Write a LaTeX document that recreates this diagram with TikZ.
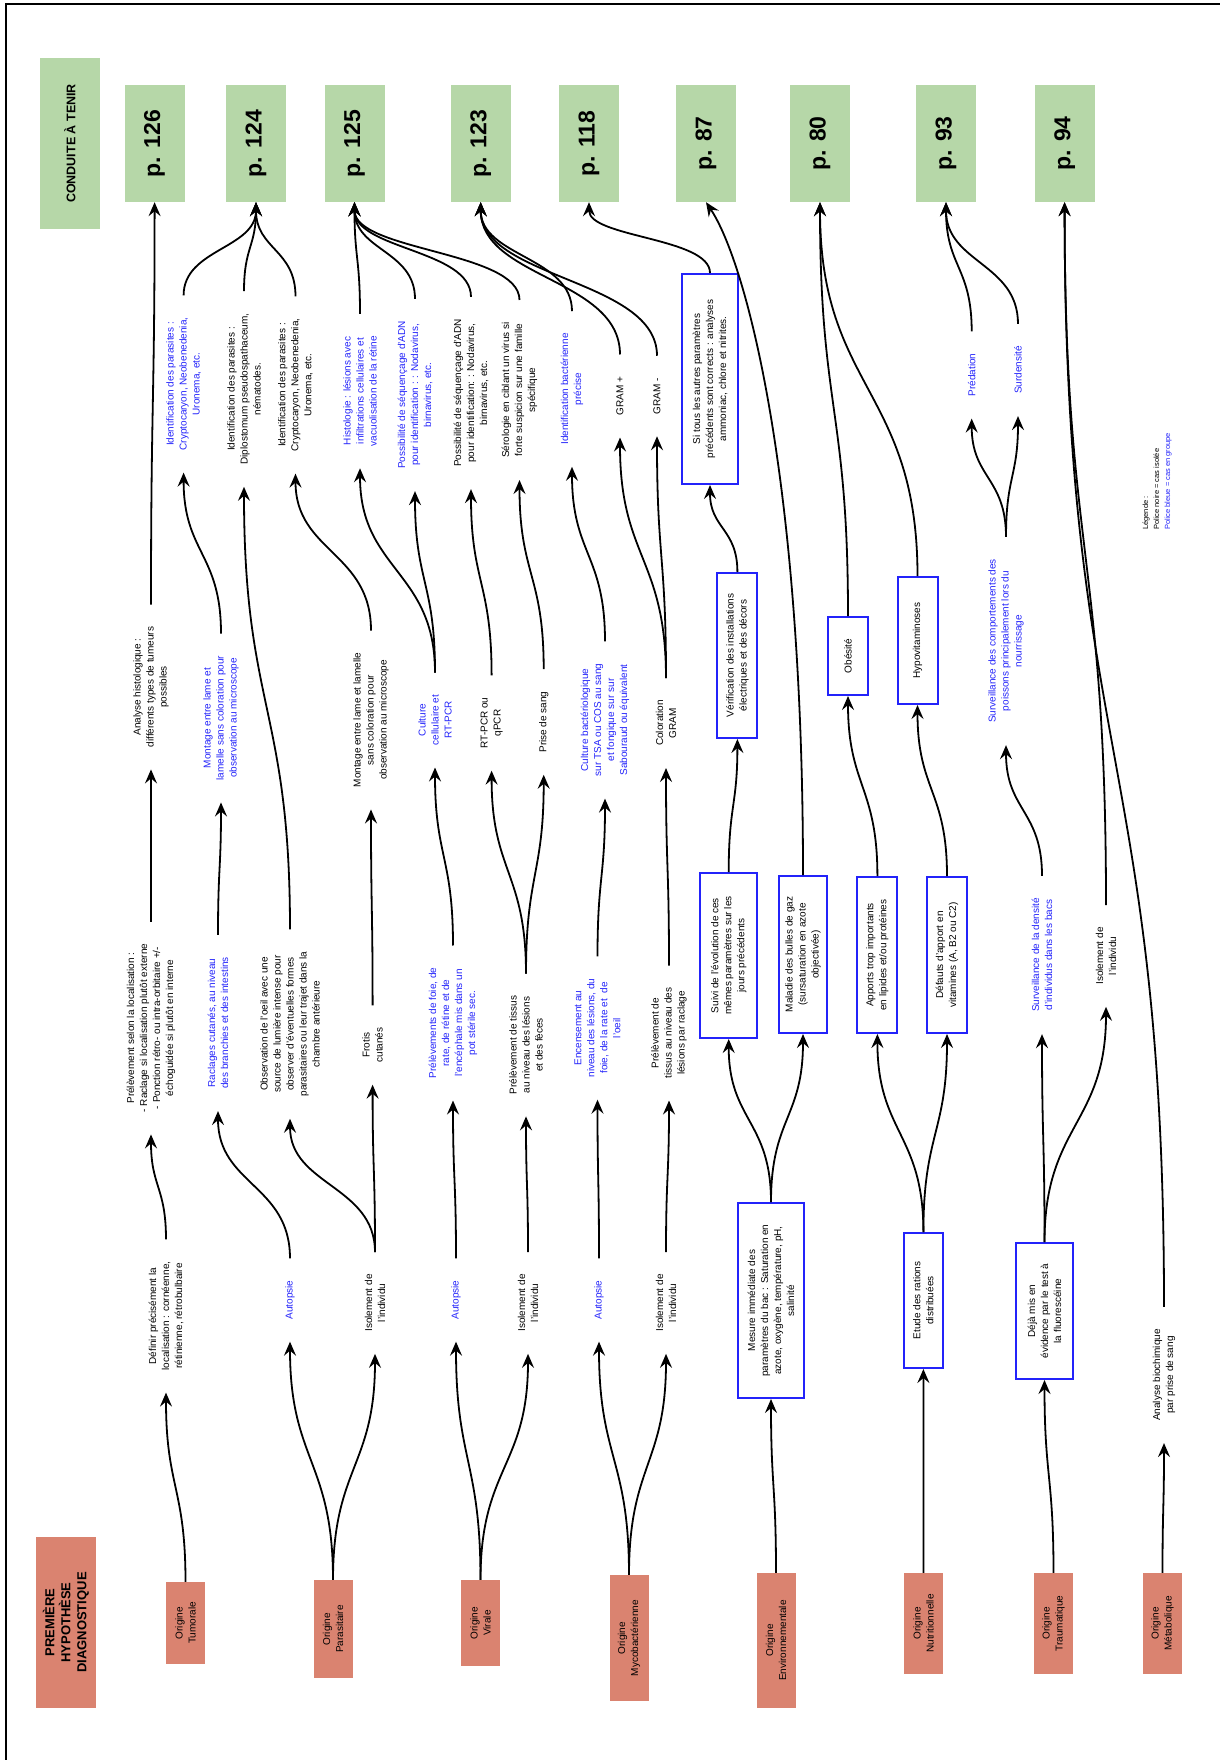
\documentclass[tikz,border=0pt]{standalone}
\usepackage{fontspec}
\setmainfont{Liberation Sans}
\usetikzlibrary{arrows.meta,calc}
\definecolor{saumon}{RGB}{218,131,112}
\definecolor{vert}{RGB}{182,215,168}
\definecolor{bleu}{RGB}{35,35,250}
\tikzset{
	txt/.style={rotate=90, align=center, font=\fontsize{10}{13}\selectfont, inner xsep=22pt, inner ysep=1pt},
	btxt/.style={txt, text=bleu},
	boite/.style={rotate=90, align=center, draw=bleu, line width=2pt, font=\fontsize{10}{13}\selectfont, inner sep=2pt},
	origine/.style={rotate=90, align=center, fill=saumon, font=\fontsize{10}{13}\selectfont, minimum height=39pt, inner sep=2pt},
	page/.style={rotate=90, fill=vert, font=\fontsize{23}{26}\selectfont\bfseries, minimum width=117pt, minimum height=60pt},
	fl/.style={line width=1.8pt, -{Stealth[length=14pt,width=12pt,inset=5pt]}},
	courbe/.style={to path={let \p1=(\tikztostart), \p2=(\tikztotarget), \n1={0.5*(\y2-\y1)} in .. controls +(0,\n1) and +(0,-\n1) .. (\tikztotarget)}}
}
\begin{document}
\begin{tikzpicture}[x=1pt, y=1pt]
	\useasboundingbox (0,0) rectangle (1220,-1760);
	\draw[line width=2.5pt] (6,-1760) -- (6,-4) -- (1220,-4);

	\node[rotate=90, fill=saumon, align=center, font=\fontsize{13}{16}\selectfont\bfseries, minimum width=171pt, minimum height=60pt] (hypothese) at (66,-1622.5) {PREMIÈRE\\HYPOTHÈSE\\DIAGNOSTIQUE};
	\node[rotate=90, fill=vert, font=\fontsize{12.5}{15}\selectfont\bfseries, minimum width=171pt, minimum height=60pt] (conduite) at (70,-143.5) {CONDUITE À TENIR};

	\node[origine, minimum width=82pt] (tumorale) at (185.5,-1623) {Origine\\Tumorale};
	\node[origine, minimum width=98pt] (parasitaire) at (333,-1629) {Origine\\Parasitaire};
	\node[origine, minimum width=86pt] (virale) at (480.5,-1623) {Origine\\Virale};
	\node[origine, minimum width=126pt] (myco) at (629,-1638) {Origine\\Mycobactérienne};
	\node[origine, minimum width=135pt] (env) at (776,-1640.5) {Origine\\Environnementale};
	\node[origine, minimum width=101pt] (nutri) at (923.5,-1623.5) {Origine\\Nutritionnelle};
	\node[origine, minimum width=101pt] (trauma) at (1053.5,-1623.5) {Origine\\Traumatique};
	\node[origine, minimum width=101pt] (metab) at (1162.5,-1623.5) {Origine\\Métabolique};

	\node[page] (p126) at (154.6,-143.5) {p. 126};
	\node[page] (p124) at (256,-143.5) {p. 124};
	\node[page] (p125) at (354.5,-143.5) {p. 125};
	\node[page] (p123) at (480.7,-143.5) {p. 123};
	\node[page] (p118) at (589,-143.5) {p. 118};
	\node[page] (p87) at (706,-143.5) {p. 87};
	\node[page] (p80) at (820,-143.5) {p. 80};
	\node[page] (p93) at (946,-143.5) {p. 93};
	\node[page] (p94) at (1064.6,-143.5) {p. 94};

	\node[txt] (definir) at (166,-1316) {Définir précisément la\\localisation : cornéenne,\\rétinienne, rétrobulbaire};
	\node[btxt] (autopsieP) at (290,-1300) {Autopsie};
	\node[txt] (isolP) at (375,-1303) {Isolement de\\l'individu};
	\node[btxt] (autopsieV) at (456,-1300) {Autopsie};
	\node[txt] (isolV) at (528,-1303) {Isolement de\\l'individu};
	\node[btxt] (autopsieM) at (599,-1300) {Autopsie};
	\node[txt] (isolM) at (666,-1303) {Isolement de\\l'individu};
	\node[boite, minimum width=195pt, minimum height=66pt] (mesure) at (771,-1300.5) {Mesure immédiate des\\paramètres du bac : Saturation en\\azote, oxygène, température, pH,\\salinité};
	\node[boite, minimum width=135pt, minimum height=39.5pt] (etude) at (923.4,-1300.5) {Etude des rations\\distribuées};
	\node[boite, minimum width=136pt, minimum height=57pt] (deja) at (1044.5,-1311) {Déjà mis en\\évidence par le test à\\la fluorescéine};
	\node[txt] (biochimie) at (1164,-1375) {Analyse biochimique\\{par prise de sang}};

	\node[txt] (prelevT) at (151,-1028) {Prélèvement selon la localisation :\\- Raclage si localisation plutôt externe\\- Ponction rétro- ou intra-orbitaire +/-\\échoguidée si plutôt en interne};
	\node[btxt] (raclages) at (218,-1023) {Raclages cutanés, au niveau\\des branchies et des intestins};
	\node[txt] (observation) at (290,-1024) {Observation de l'oeil avec une\\source de lumière intense pour\\observer d'éventuelles formes\\parasitaires ou leur trajet dans la\\chambre antérieure};
	\node[txt] (frotis) at (372.6,-1045) {Frotis\\cutanés};
	\node[btxt] (prelevV) at (453,-1023) {Prélèvements de foie, de\\rate, de rétine et de\\l'encéphale mis dans un\\pot stérile sec.};
	\node[txt] (tissusV) at (526,-1045) {Prélèvement de tissus\\au niveau des lésions\\et des fèces};
	\node[btxt] (encensement) at (597.5,-1028) {Encensement au\\niveau des lésions, du\\foie, de la rate et\ \ de\\l'oeil};
	\node[txt] (tissusM) at (669,-1033) {Prélèvement de\\tissus au niveau des\\lésions par raclage};
	\node[boite, minimum width=165pt, minimum height=57pt] (suivi) at (728.7,-955.5) {Suivi de l'évolution de ces\\mêmes paramètres sur les\\jours précédents};
	\node[boite, minimum width=157pt, minimum height=48pt] (maladie) at (803,-954.5) {Maladie des bulles de gaz\\(sursaturation en azote\\objectivée)};
	\node[boite, minimum width=156pt, minimum height=40pt] (apports) at (877.4,-955) {Apports trop importants\\en lipides et/ou protéines};
	\node[boite, minimum width=156pt, minimum height=40pt] (defauts) at (947,-955) {Défauts d'apport en\\vitamines (A, B2 ou C2)};
	\node[btxt] (densite) at (1042,-955) {Surveillance de la densité\\d'individus dans les bacs};
	\node[txt] (isolT) at (1106,-956) {Isolement de\\l'individu};

	\node[txt] (histoT) at (151,-687) {Analyse histologique :\\différents types de tumeurs\\possibles};
	\node[btxt] (montageP) at (221,-718) {Montage entre lame et\\lamelle sans coloration pour\\observation au microscope};
	\node[txt] (montageF) at (371,-720) {Montage entre lame et lamelle\\sans coloration pour\\observation au microscope};
	\node[btxt] (culture) at (435,-720) {Culture\\cellulaire et\\RT-PCR};
	\node[txt] (rtpcr) at (491.6,-723) {RT-PCR ou\\qPCR};
	\node[txt] (sang) at (543.7,-722) {Prise de sang};
	\node[btxt] (bacterio) at (605,-720) {Culture bactériologique\\sur TSA ou COS au sang\\et fongique sur sur\\Sabouraud ou équivalent};
	\node[txt] (gram) at (666,-723) {Coloration\\GRAM};
	\node[boite, minimum width=165pt, minimum height=40pt] (verif) at (737.4,-655.5) {Vérification des installations\\électriques et des décors};
	\node[boite, minimum width=78pt, minimum height=40pt] (obesite) at (848,-656) {Obésité};
	\node[boite, minimum width=127pt, minimum height=40pt] (hypovit) at (917.5,-640.5) {Hypovitaminoses};
	\node[btxt] (comport) at (1006,-641) {Surveillance des comportements des\\poissons principalement lors du\\nourrissage};

	\node[btxt] (identA) at (183.6,-384) {Identification des parasites :\\Cryptocaryon, Neobenedenia,\\Uronema, etc.};
	\node[txt] (identB) at (244,-389) {Identification des parasites :\\Diplostomum pseudospathaceum,\\nématodes.};
	\node[txt] (identC) at (295.5,-385) {Identification des parasites :\\Cryptocaryon, Neobenedenia,\\Uronema, etc.};
	\node[btxt] (histoV) at (360,-391) {Histologie : lésions avec\\infiltrations cellulaires et\\vacuolisation de la rétine};
	\node[btxt] (sequA) at (415,-395) {Possibilité de séquençage d'ADN\\pour identification : : Nodavirus,\\birnavirus, etc.};
	\node[txt] (sequB) at (471,-393) {Possibilité de séquençage d'ADN\\pour identification: : Nodavirus,\\birnavirus, etc.};
	\node[txt] (serologie) at (519.5,-390) {Sérologie en ciblant un virus si\\forte suspicion sur une famille\\spécifique};
	\node[btxt] (identBact) at (572,-389) {Identification bactérienne\\précise};
	\node[txt] (gramP) at (620,-396) {GRAM +};
	\node[txt] (gramM) at (657,-396) {GRAM -};
	\node[boite, minimum width=210pt, minimum height=56pt] (sitous) at (710,-379) {Si tous les autres paramètres\\précédents sont corrects : analyses\\ammoniac, chlore et nitrites.};
	\node[btxt] (predation) at (971.7,-375) {Prédation};
	\node[btxt] (surdensite) at (1018,-370) {Surdensité};
	\node[rotate=90, anchor=west, align=left, font=\fontsize{7.5}{11}\selectfont, inner sep=0pt] (legende) at (1157,-530) {Légende :\\Police noire = cas isolée\\\textcolor{bleu}{Police bleue = cas en groupe}};

	\draw[fl] (tumorale.east) to[courbe] (definir.west);
	\draw[fl] (definir.east) to[courbe] (prelevT.west);
	\draw[fl] (prelevT.east) to[courbe] (histoT.west);
	\draw[fl] (histoT.east) to[courbe] (p126.west);

	\draw[fl] (parasitaire.east) to[courbe] (autopsieP.west);
	\draw[fl] (parasitaire.east) to[courbe] (isolP.west);
	\draw[fl] (autopsieP.east) to[courbe] (raclages.west);
	\draw[fl] (isolP.east) to[courbe] (observation.west);
	\draw[fl] (isolP.east) to[courbe] (frotis.west);
	\draw[fl] (raclages.east) to[courbe] (montageP.west);
	\draw[fl] (montageP.east) to[courbe] (identA.west);
	\draw[fl] (observation.east) to[courbe] (identB.west);
	\draw[fl] (frotis.east) to[courbe] (montageF.west);
	\draw[fl] (montageF.east) to[courbe] (identC.west);
	\draw[fl] (identA.east) to[courbe] (p124.west);
	\draw[fl] (identB.east) to[courbe] (p124.west);
	\draw[fl] (identC.east) to[courbe] (p124.west);

	\draw[fl] (virale.east) to[courbe] (autopsieV.west);
	\draw[fl] (virale.east) to[courbe] (isolV.west);
	\draw[fl] (autopsieV.east) to[courbe] (prelevV.west);
	\draw[fl] (isolV.east) to[courbe] (tissusV.west);
	\draw[fl] (prelevV.east) to[courbe] (culture.west);
	\draw[fl] (tissusV.east) to[courbe] (rtpcr.west);
	\draw[fl] (tissusV.east) to[courbe] (sang.west);
	\draw[fl] (culture.east) to[courbe] (histoV.west);
	\draw[fl] (culture.east) to[courbe] (sequA.west);
	\draw[fl] (rtpcr.east) to[courbe] (sequB.west);
	\draw[fl] (sang.east) to[courbe] (serologie.west);
	\draw[fl] (histoV.east) to[courbe] (p125.west);
	\draw[fl] (sequA.east) to[courbe] (p125.west);
	\draw[fl] (sequB.east) to[courbe] (p125.west);
	\draw[fl] (serologie.east) to[courbe] (p125.west);

	\draw[fl] (myco.east) to[courbe] (autopsieM.west);
	\draw[fl] (myco.east) to[courbe] (isolM.west);
	\draw[fl] (autopsieM.east) to[courbe] (encensement.west);
	\draw[fl] (isolM.east) to[courbe] (tissusM.west);
	\draw[fl] (encensement.east) to[courbe] (bacterio.west);
	\draw[fl] (tissusM.east) to[courbe] (gram.west);
	\draw[fl] (bacterio.east) to[courbe] (identBact.west);
	\draw[fl] (gram.east) to[courbe] (gramP.west);
	\draw[fl] (gram.east) to[courbe] (gramM.west);
	\draw[fl] (identBact.east) to[courbe] (p123.west);
	\draw[fl] (gramP.east) to[courbe] (p123.west);
	\draw[fl] (gramM.east) to[courbe] (p123.west);

	\draw[fl] (env.east) to[courbe] (mesure.west);
	\draw[fl] (mesure.east) to[courbe] (suivi.west);
	\draw[fl] (mesure.east) to[courbe] (maladie.west);
	\draw[fl] (suivi.east) to[courbe] (verif.west);
	\draw[fl] (verif.east) to[courbe] (sitous.west);
	\draw[fl] (sitous.east) to[courbe] (p118.west);
	\draw[fl] (maladie.east) .. controls +(0,400) and +(40,-60) .. (p87.west);

	\draw[fl] (nutri.east) to[courbe] (etude.west);
	\draw[fl] (etude.east) to[courbe] (apports.west);
	\draw[fl] (etude.east) to[courbe] (defauts.west);
	\draw[fl] (apports.east) to[courbe] (obesite.west);
	\draw[fl] (defauts.east) to[courbe] (hypovit.west);
	\draw[fl] (obesite.east) to[courbe] (p80.west);
	\draw[fl] (hypovit.east) to[courbe] (p80.west);

	\draw[fl] (trauma.east) to[courbe] (deja.west);
	\draw[fl] (deja.east) to[courbe] (densite.west);
	\draw[fl] (deja.east) to[courbe] (isolT.west);
	\draw[fl] (densite.east) to[courbe] (comport.west);
	\draw[fl] (comport.east) to[courbe] (predation.west);
	\draw[fl] (comport.east) to[courbe] (surdensite.west);
	\draw[fl] (predation.east) to[courbe] (p93.west);
	\draw[fl] (surdensite.east) to[courbe] (p93.west);
	\draw[fl] (isolT.east) to[courbe] (p94.west);

	\draw[fl] (metab.east) to[courbe] (biochimie.west);
	\draw[fl] (biochimie.east) to[courbe] (p94.west);
\end{tikzpicture}
\end{document}
